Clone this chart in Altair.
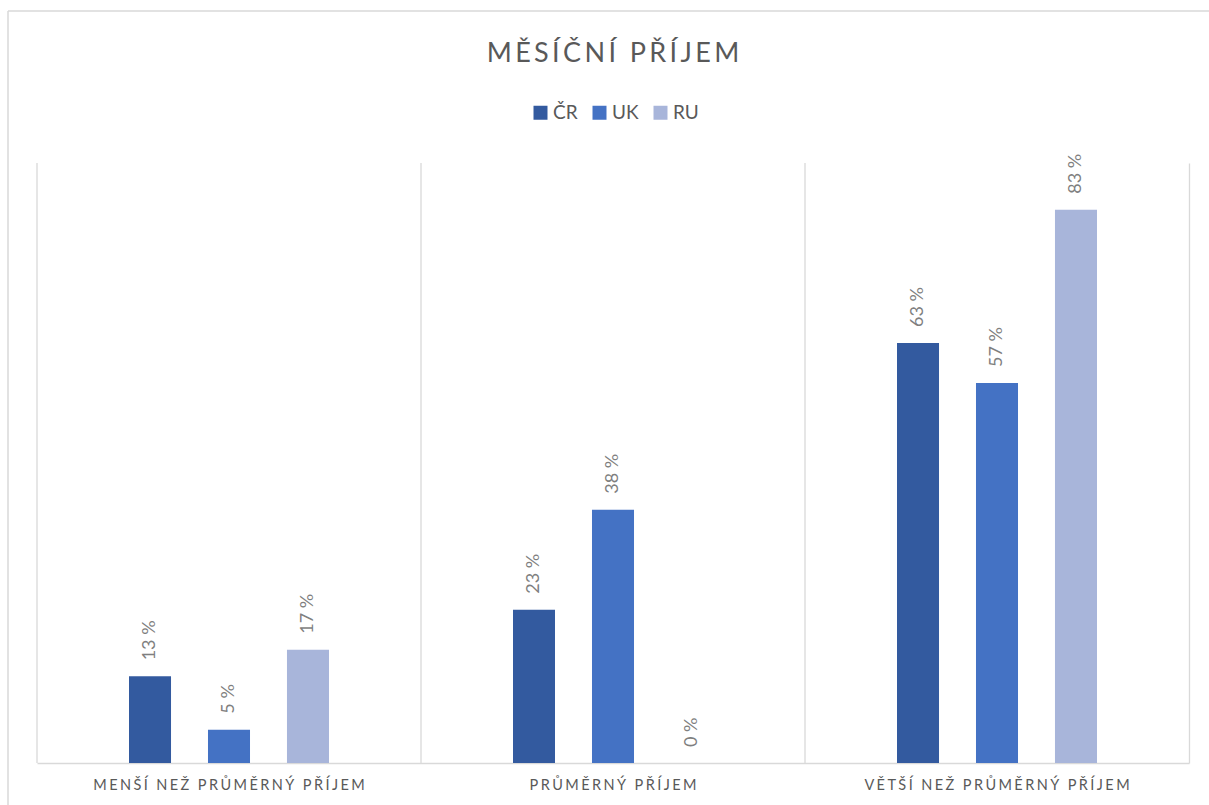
import altair as alt
import pandas as pd

categories = ["MENŠÍ NEŽ PRŮMĚRNÝ PŘÍJEM", "PRŮMĚRNÝ PŘÍJEM", "VĚTŠÍ NEŽ PRŮMĚRNÝ PŘÍJEM"]
series = ["ČR", "UK", "RU"]
values_cr = [13, 23, 63]
values_uk = [5, 38, 57]
values_ru = [17, 0, 83]
colors = ["#335A9F", "#4472C4", "#A8B5DA"]
title_text = "MĚSÍČNÍ PŘÍJEM"

rows = []
for s, vals in zip(series, [values_cr, values_uk, values_ru]):
    for c, v in zip(categories, vals):
        rows.append({"category": c, "series": s, "value": v})
df = pd.DataFrame(rows)
sep_df = pd.DataFrame({"category": categories})
deco_df = pd.DataFrame({"d": [0]})

FONT = "Lato"
GRID = "#d9d9d9"

x_scale = alt.Scale(domain=categories, paddingInner=0, paddingOuter=0)
xoff_scale = alt.Scale(domain=series, paddingInner=0.468, paddingOuter=0, range=[92, 292])
y_scale = alt.Scale(domain=[0, 90], nice=False)

x_enc = alt.X(
    "category:N",
    sort=categories,
    scale=x_scale,
    axis=alt.Axis(
        title=None,
        labelAngle=0,
        labelAlign="center",
        labelBaseline="top",
        ticks=False,
        grid=False,
        domain=True,
        domainColor=GRID,
        domainWidth=1.3,
        labelFont=FONT,
        labelFontSize=14.5,
        labelColor="#595959",
        labelPadding=15,
        labelLimit=0,
        labelExpr="join(split(datum.label, ''), '\u2006')",
    ),
)

y_enc = alt.Y(
    "value:Q",
    scale=y_scale,
    axis=alt.Axis(
        orient="right",
        title=None,
        labels=False,
        ticks=False,
        grid=False,
        domain=True,
        domainColor=GRID,
        domainWidth=1.3,
    ),
)

bars = alt.Chart(df).mark_bar().encode(
    x=x_enc,
    xOffset=alt.XOffset("series:N", sort=series, scale=xoff_scale),
    y=y_enc,
    color=alt.Color(
        "series:N",
        sort=series,
        scale=alt.Scale(domain=series, range=colors),
        legend=alt.Legend(
            title=None,
            orient="none",
            direction="horizontal",
            legendX=494,
            legendY=-60,
            symbolType="square",
            symbolSize=196,
            symbolStrokeWidth=0,
            labelFont=FONT,
            labelFontSize=19,
            labelColor="#595959",
            labelOffset=3,
            columnPadding=12,
        ),
    ),
)

labels = alt.Chart(df).transform_calculate(
    label="format(datum.value, '.0f') + ' %'"
).mark_text(
    angle=270,
    align="left",
    baseline="middle",
    dx=16,
    font=FONT,
    fontSize=18,
    color="#7f7f7f",
).encode(
    x=alt.X("category:N", sort=categories, scale=x_scale),
    xOffset=alt.XOffset("series:N", sort=series, scale=xoff_scale),
    y=alt.Y("value:Q", scale=y_scale),
    text="label:N",
)

separators = alt.Chart(sep_df).mark_rule(color=GRID, strokeWidth=1.3).encode(
    x=alt.X("category:N", sort=categories, scale=x_scale, bandPosition=0),
)

border_left = alt.Chart(deco_df).mark_rule(color=GRID, strokeWidth=1.5).encode(
    x=alt.value(-29), y=alt.value(-152), y2=alt.value(650)
)
border_top = alt.Chart(deco_df).mark_rule(color=GRID, strokeWidth=1.5).encode(
    x=alt.value(-29), x2=alt.value(1180), y=alt.value(-152)
)

chart = alt.layer(border_left, border_top, separators, bars, labels).properties(
    width=1152,
    height=600,
    title=alt.TitleParams(
        text="\u2009".join(title_text),
        font=FONT,
        fontSize=27,
        fontWeight="normal",
        color="#595959",
        anchor="middle",
        baseline="alphabetic",
        offset=0,
        dy=79,
    ),
    autosize=alt.AutoSizeParams(type="none"),
    padding={"left": 37, "top": 163, "right": 20, "bottom": 42},
    background="white",
).configure_view(stroke=None)

chart.save("out.html", embed_options={"renderer": "svg", "actions": False})
